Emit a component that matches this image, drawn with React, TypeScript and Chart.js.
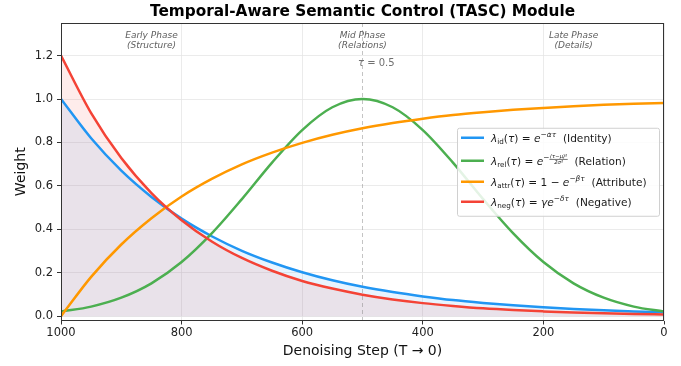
import React, { useEffect, useRef } from 'react';
import { Chart, registerables } from 'chart.js';

Chart.register(...registerables);

// ---------------- data ----------------
const steps = [1000, 950, 900, 850, 800, 750, 700, 650, 600, 550, 500, 450, 400, 350, 300, 250, 200, 150, 100, 50, 0];
const identityW = [1.0, 0.819, 0.670, 0.549, 0.449, 0.368, 0.301, 0.247, 0.202, 0.165, 0.135, 0.111, 0.091, 0.074, 0.061, 0.050, 0.041, 0.033, 0.027, 0.022, 0.018];
const relationW = [0.021, 0.044, 0.085, 0.151, 0.249, 0.381, 0.539, 0.707, 0.857, 0.962, 1.0, 0.962, 0.857, 0.707, 0.539, 0.381, 0.249, 0.151, 0.085, 0.044, 0.021];
const attributeW = [0.0, 0.181, 0.330, 0.451, 0.551, 0.632, 0.699, 0.753, 0.798, 0.835, 0.865, 0.889, 0.909, 0.926, 0.939, 0.950, 0.959, 0.967, 0.973, 0.978, 0.982];
const negativeW = [1.2, 0.935, 0.728, 0.567, 0.442, 0.344, 0.268, 0.209, 0.162, 0.127, 0.099, 0.077, 0.060, 0.047, 0.036, 0.028, 0.022, 0.017, 0.013, 0.010, 0.008];

const xTicks = [1000, 800, 600, 400, 200, 0];
const yTicks = [0.0, 0.2, 0.4, 0.6, 0.8, 1.0, 1.2];

const titleText = 'Temporal-Aware Semantic Control (TASC) Module';
const xTitle = 'Denoising Step (T → 0)';
const yTitle = 'Weight';

const phaseSteps = [850, 500, 150];
const phaseNames = ['Early Phase', 'Mid Phase', 'Late Phase'];
const phaseSubs = ['(Structure)', '(Relations)', '(Details)'];
const midStep = 500;
const midLabel: [string, string][] = [['τ', 'i'], [' = 0.5', 'n']];

const colors = ['#2196F3', '#4CAF50', '#FF9800', '#F44336'];
const legendLabels: [string, string][][] = [
  [['λ', 'i'], ['id', 'sub'], ['(', 'n'], ['τ', 'i'], [')', 'n'], [' = ', 'n'], ['e', 'i'], ['−', 'sup'], ['ατ', 'supi'], ['  (Identity)', 'n']],
  [['λ', 'i'], ['rel', 'sub'], ['(', 'n'], ['τ', 'i'], [')', 'n'], [' = ', 'n'], ['e', 'i'], ['−', 'sup'], ['(τ−μ)²|2σ²', 'frac'], ['  (Relation)', 'n']],
  [['λ', 'i'], ['attr', 'sub'], ['(', 'n'], ['τ', 'i'], [')', 'n'], [' = 1 − ', 'n'], ['e', 'i'], ['−', 'sup'], ['βτ', 'supi'], ['  (Attribute)', 'n']],
  [['λ', 'i'], ['neg', 'sub'], ['(', 'n'], ['τ', 'i'], [')', 'n'], [' = ', 'n'], ['γe', 'i'], ['−', 'sup'], ['δτ', 'supi'], ['  (Negative)', 'n']],
];

const FF = "'DejaVu Sans'";

function drawRich(ctx: CanvasRenderingContext2D, toks: [string, string][], x: number, yBase: number, size: number, color: string) {
  let cx = x;
  ctx.fillStyle = color;
  ctx.textBaseline = 'alphabetic';
  ctx.textAlign = 'left';
  for (const [t, k] of toks) {
    if (k === 'frac') {
      const [num, den] = t.split('|');
      const fs = size * 0.5;
      ctx.font = `italic ${fs}px ${FF}`;
      const wn = ctx.measureText(num).width;
      const wd = ctx.measureText(den).width;
      const w = Math.max(wn, wd) + 1;
      const barY = yBase - size * 0.5;
      ctx.fillText(num, cx + (w - wn) / 2, barY - 1.2);
      ctx.fillText(den, cx + (w - wd) / 2, barY + fs * 0.75 + 0.8);
      ctx.fillRect(cx, barY - 0.3, w, 0.6);
      cx += w;
      continue;
    }
    let fs = size;
    let dy = 0;
    let it = k === 'i';
    if (k === 'sub') { fs = size * 0.68; dy = size * 0.25; }
    if (k === 'sup' || k === 'supi') { fs = size * 0.7; dy = -size * 0.45; it = k === 'supi'; }
    ctx.font = `${it ? 'italic ' : ''}${fs}px ${FF}`;
    ctx.fillText(t, cx, yBase + dy);
    cx += ctx.measureText(t).width;
  }
  return cx - x;
}

const overlayPlugin = {
  id: 'overlay',
  beforeDatasetsDraw(chart: any) {
    const { ctx, chartArea: a, scales } = chart;
    const mx = scales.x.getPixelForValue(midStep);
    ctx.save();
    ctx.beginPath();
    ctx.setLineDash([4, 3]);
    ctx.strokeStyle = 'rgba(120,120,120,0.55)';
    ctx.lineWidth = 0.8;
    ctx.moveTo(mx, a.top);
    ctx.lineTo(mx, a.bottom);
    ctx.stroke();
    ctx.restore();
  },
  afterDatasetsDraw(chart: any) {
    const { ctx, chartArea: a, scales } = chart;
    const xs = scales.x;
    const ys = scales.y;
    ctx.save();
    // title centred over the plot area
    ctx.fillStyle = '#000';
    ctx.textAlign = 'center';
    ctx.textBaseline = 'middle';
    ctx.font = `bold 15.3px ${FF}`;
    ctx.fillText(titleText, (a.left + a.right) / 2, 12);

    // phase labels
    ctx.fillStyle = '#606060';
    ctx.font = `italic 9px ${FF}`;
    phaseSteps.forEach((s, i) => {
      const px = xs.getPixelForValue(s);
      const py = ys.getPixelForValue(1.29);
      ctx.fillText(phaseNames[i], px, py);
      ctx.fillText(phaseSubs[i], px, py + 10);
    });
    // tau label
    drawRich(ctx, midLabel, xs.getPixelForValue(midStep) - 4.5, ys.getPixelForValue(1.17) + 3.5, 10, '#707070');

    // legend
    const lw = 202, lh = 88;
    const lx = a.right - 5 - lw;
    const ly = (a.top + a.bottom) / 2 - lh / 2;
    ctx.fillStyle = 'rgba(255,255,255,0.85)';
    ctx.strokeStyle = '#d0d0d0';
    ctx.lineWidth = 1;
    ctx.beginPath();
    if ((ctx as any).roundRect) (ctx as any).roundRect(lx + 0.5, ly + 0.5, lw, lh, 2);
    else ctx.rect(lx + 0.5, ly + 0.5, lw, lh);
    ctx.fill();
    ctx.stroke();
    const rows = [10, 33, 54, 74];
    legendLabels.forEach((lab, i) => {
      const cy = ly + rows[i];
      ctx.strokeStyle = colors[i];
      ctx.lineWidth = 2.5;
      ctx.beginPath();
      ctx.moveTo(lx + 4, cy);
      ctx.lineTo(lx + 27, cy);
      ctx.stroke();
      drawRich(ctx, lab, lx + 34, cy + 3.8, 10.6, '#1a1a1a');
    });

    // spines
    ctx.strokeStyle = '#333';
    ctx.lineWidth = 1;
    ctx.strokeRect(Math.round(a.left) + 0.5, Math.round(a.top) + 0.5, Math.round(a.right - a.left) - 1, Math.round(a.bottom - a.top) - 1);
    ctx.restore();
  },
};

function pts(vals: number[]) {
  return steps.map((s, i) => ({ x: s, y: vals[i] }));
}

export default function App() {
  const ref = useRef<HTMLCanvasElement | null>(null);
  useEffect(() => {
    document.body.style.margin = '0';
    const canvas = ref.current;
    if (!canvas) return;
    Chart.defaults.font.family = FF;
    const common = { pointRadius: 0, borderWidth: 2.5, cubicInterpolationMode: 'monotone' as const };
    const chart = new Chart(canvas, {
      type: 'line',
      data: {
        datasets: [
          { ...common, label: 'Identity', data: pts(identityW), borderColor: colors[0], backgroundColor: 'rgba(33,150,243,0.1)', fill: 'origin', order: 3 },
          { ...common, label: 'Relation', data: pts(relationW), borderColor: colors[1], fill: false, order: 2 },
          { ...common, label: 'Attribute', data: pts(attributeW), borderColor: colors[2], fill: false, order: 1 },
          { ...common, label: 'Negative', data: pts(negativeW), borderColor: colors[3], backgroundColor: 'rgba(244,67,54,0.1)', fill: 'origin', order: 0 },
        ],
      },
      options: {
        animation: false,
        responsive: false,
        maintainAspectRatio: false,
        layout: { padding: { left: 0, right: 17, top: 23, bottom: 0 } },
        plugins: {
          legend: { display: false },
          tooltip: { enabled: false },
          filler: { drawTime: 'beforeDatasetsDraw' },
          title: { display: false },
        },
        scales: {
          x: {
            type: 'linear',
            min: 0,
            max: 1000,
            reverse: true,
            afterBuildTicks: (s: any) => { s.ticks = xTicks.map((v) => ({ value: v })); },
            afterFit: (s: any) => { s.height = 45.5; },
            ticks: { color: '#222', font: { size: 11.5, family: FF }, padding: 2, maxRotation: 0, callback: (v: any) => String(v) },
            grid: { color: '#e6e6e6', lineWidth: 0.8, tickColor: '#333', tickLength: 4, tickWidth: 1 },
            border: { display: false },
            title: { display: true, text: xTitle, color: '#111', font: { size: 14, family: FF }, padding: { top: 0, bottom: 6 } },
          },
          y: {
            type: 'linear',
            min: -0.02,
            max: 1.35,
            afterBuildTicks: (s: any) => { s.ticks = yTicks.map((v) => ({ value: v })); },
            afterFit: (s: any) => { s.width = 61; },
            ticks: { color: '#222', font: { size: 11.5, family: FF }, padding: 4, callback: (v: any) => Number(v).toFixed(1) },
            grid: { color: '#e6e6e6', lineWidth: 0.8, tickColor: '#333', tickLength: 4, tickWidth: 1 },
            border: { display: false },
            title: { display: true, text: yTitle, color: '#111', font: { size: 14, family: FF }, padding: { top: 12.6, bottom: 0 } },
          },
        },
      },
      plugins: [overlayPlugin],
    } as any);
    return () => chart.destroy();
  }, []);
  return (
    <div style={{ position: 'absolute', left: 0, top: 0, width: 681, height: 366 }}>
      <canvas ref={ref} width={681} height={366} style={{ display: 'block', width: 681, height: 366 }} />
    </div>
  );
}
